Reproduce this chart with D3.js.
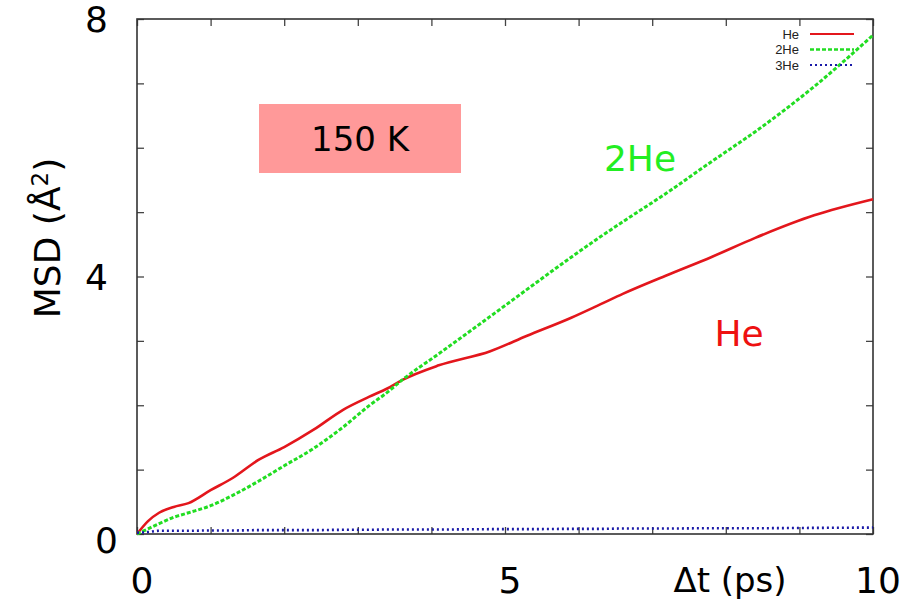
<!DOCTYPE html>
<html>
<head>
<meta charset="utf-8">
<script src="https://cdn.jsdelivr.net/npm/d3@7"></script>
<style>
  body { margin: 0; background: #fff; }
  svg { display: block; }
</style>
</head>
<body>
<svg id="chart" width="901" height="607"></svg>
<script>
// time axis (ps)
var times = [0, 0.15, 0.3, 0.5, 0.7, 1.0, 1.3, 1.65, 2.0, 2.4, 2.8, 3.15, 3.4, 3.6, 4.1, 4.8, 5.3, 5.9, 6.3, 6.6, 7.2, 7.8, 8.4, 9.2, 10];
// MSD values (A^2)
var msdHe  = [0, 0.2, 0.33, 0.42, 0.48, 0.68, 0.87, 1.15, 1.35, 1.62, 1.93, 2.13, 2.26, 2.39, 2.62, 2.84, 3.08, 3.36, 3.57, 3.73, 4.02, 4.3, 4.6, 4.95, 5.2];
var msd2He = [0, 0.08, 0.16, 0.26, 0.33, 0.44, 0.6, 0.82, 1.06, 1.33, 1.66, 1.99, 2.2, 2.39, 2.8, 3.38, 3.8, 4.3, 4.62, 4.85, 5.3, 5.78, 6.25, 6.95, 7.75];
var msd3He = [0.02, 0.03, 0.05, 0.05, 0.05, 0.055, 0.055, 0.06, 0.06, 0.06, 0.065, 0.065, 0.07, 0.07, 0.07, 0.075, 0.075, 0.08, 0.08, 0.085, 0.085, 0.09, 0.09, 0.095, 0.1];

var xLabelTicks = [0, 5, 10];
var yLabelTicks = [0, 4, 8];

var series = [
  {name: "He",  values: msdHe,  color: "#e3161c", dash: null,  width: 2.6},
  {name: "2He", values: msd2He, color: "#22dd22", dash: "4,2", width: 3},
  {name: "3He", values: msd3He, color: "#1a1aa8", dash: "2,3", width: 2.6}
];

var svg = d3.select("#chart");
var plotL = 137, plotR = 873, plotT = 19, plotB = 534;

var x = d3.scaleLinear().domain([0, 10]).range([plotL, plotR]);
var y = d3.scaleLinear().domain([0, 8]).range([plotB, plotT]);

var font = "'DejaVu Sans', sans-serif";

// tick marks (all four sides, inward)
function ticks(axis, transform) {
  var g = svg.append("g").attr("transform", transform).call(axis);
  g.select(".domain").remove();
  g.selectAll("line").attr("stroke", "#444").attr("stroke-width", 1.3);
  g.selectAll("text").remove();
}
ticks(d3.axisBottom(x).ticks(10).tickSizeInner(-7).tickSizeOuter(0), "translate(0," + plotB + ")");
ticks(d3.axisTop(x).ticks(10).tickSizeInner(-7).tickSizeOuter(0), "translate(0," + plotT + ")");
ticks(d3.axisLeft(y).ticks(8).tickSizeInner(-7).tickSizeOuter(0), "translate(" + plotL + ",0)");
ticks(d3.axisRight(y).ticks(8).tickSizeInner(-7).tickSizeOuter(0), "translate(" + plotR + ",0)");

// frame
svg.append("rect")
  .attr("x", plotL).attr("y", plotT)
  .attr("width", plotR - plotL).attr("height", plotB - plotT)
  .attr("fill", "none").attr("stroke", "#333").attr("stroke-width", 1.6);

// tick labels
svg.selectAll(".xl").data(xLabelTicks).enter().append("text")
  .attr("x", function(d) { return x(d) + 5; })
  .attr("y", 593)
  .attr("text-anchor", "middle")
  .attr("font-family", font).attr("font-size", 36)
  .text(function(d) { return d; });

svg.selectAll(".yl").data(yLabelTicks).enter().append("text")
  .attr("x", function(d) { return d === 0 ? 118 : 108; })
  .attr("y", function(d) { return d === 0 ? y(d) + 19 : y(d) + 13; })
  .attr("text-anchor", "end")
  .attr("font-family", font).attr("font-size", 36)
  .text(function(d) { return d; });

// axis titles
svg.append("text")
  .attr("transform", "translate(60,238) rotate(-90)")
  .attr("text-anchor", "middle")
  .attr("font-family", font).attr("font-size", 36)
  .html("MSD (Å<tspan dy='-12' font-size='23'>2</tspan><tspan dy='12'>)</tspan>");

svg.append("text")
  .attr("x", 730).attr("y", 592)
  .attr("text-anchor", "middle")
  .attr("font-family", font).attr("font-size", 34)
  .text("Δt (ps)");

// curves
var line = d3.line()
  .x(function(d, i) { return x(times[i]); })
  .y(function(d) { return y(d); })
  .curve(d3.curveMonotoneX);

series.forEach(function(s) {
  svg.append("path")
    .datum(s.values)
    .attr("d", line)
    .attr("fill", "none")
    .attr("stroke", s.color)
    .attr("stroke-width", s.width)
    .attr("stroke-dasharray", s.dash);
});

// legend
var legend = svg.append("g");
series.forEach(function(s, i) {
  var ly = 34 + i * 15.5;
  legend.append("text")
    .attr("x", 799).attr("y", ly + 4.5)
    .attr("text-anchor", "end")
    .attr("font-family", "'Liberation Sans', Arial, sans-serif")
    .attr("font-size", 13).attr("fill", "#222")
    .text(s.name);
  legend.append("line")
    .attr("x1", 810).attr("x2", 854)
    .attr("y1", ly).attr("y2", ly)
    .attr("stroke", s.color)
    .attr("stroke-width", s.width - 0.6)
    .attr("stroke-dasharray", s.dash);
});

// 150 K box
svg.append("rect")
  .attr("x", 259).attr("y", 104).attr("width", 202).attr("height", 69)
  .attr("fill", "#ff9999");
svg.append("text")
  .attr("x", 360).attr("y", 151)
  .attr("text-anchor", "middle")
  .attr("font-family", font).attr("font-size", 34)
  .text("150 K");

// series annotations
svg.append("text")
  .attr("x", 640).attr("y", 171)
  .attr("text-anchor", "middle")
  .attr("font-family", font).attr("font-size", 36)
  .attr("fill", "#22ee22")
  .text("2He");
svg.append("text")
  .attr("x", 739).attr("y", 346)
  .attr("text-anchor", "middle")
  .attr("font-family", font).attr("font-size", 36)
  .attr("fill", "#ee1111")
  .text("He");
</script>
</body>
</html>
